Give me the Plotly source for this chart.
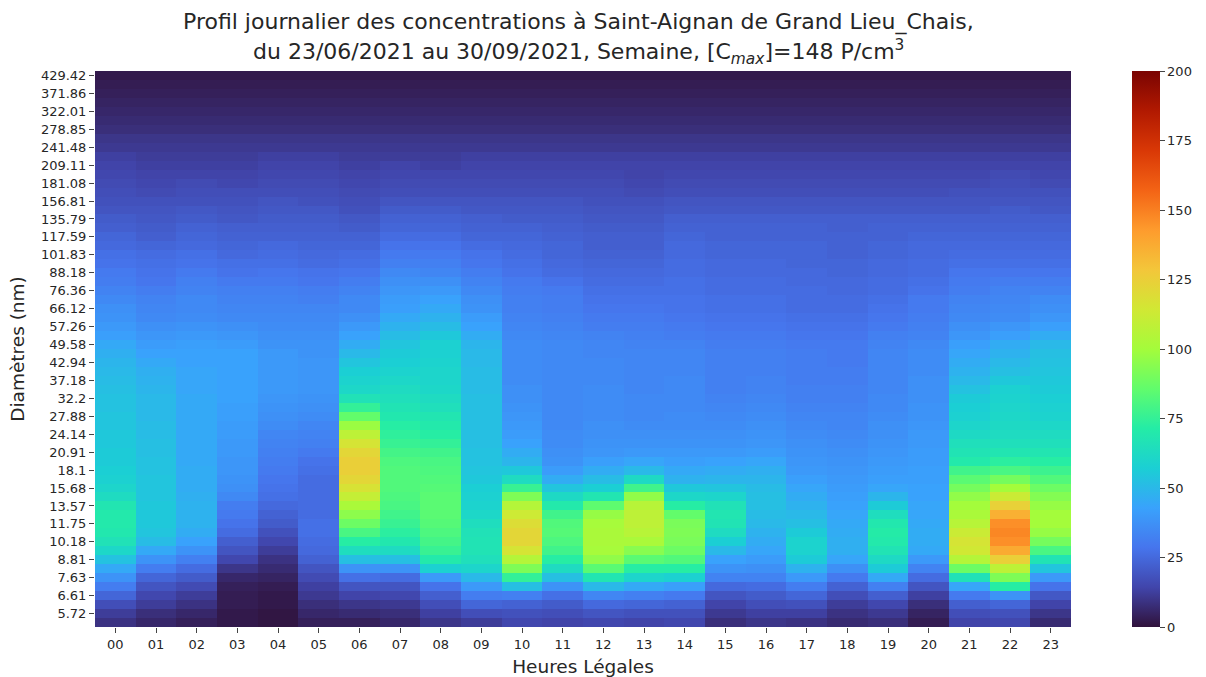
import plotly.graph_objects as go

# Hours of the day (x axis)
hours = ["%02d" % h for h in range(24)]

# Diameter tick labels (nm), every other size channel, smallest first
diam_labels = ["5.72", "6.61", "7.63", "8.81", "10.18", "11.75", "13.57", "15.68",
               "18.1", "20.91", "24.14", "27.88", "32.2", "37.18", "42.94", "49.58",
               "57.26", "66.12", "76.36", "88.18", "101.83", "117.59", "135.79",
               "156.81", "181.08", "209.11", "241.48", "278.85", "322.01", "371.86",
               "429.42"]

# Mean concentration per size channel (P/cm3), 62 channels from the smallest diameter up
conc_00 = [9, 12, 17, 24, 31, 38, 45, 53, 61, 66, 69, 70, 70, 68, 63, 60, 58, 57, 56, 56, 55, 55, 54, 54, 53, 53, 52, 51, 50, 49, 47,
           45, 42, 40, 38, 37, 35, 33, 31, 30, 28, 27, 25, 24, 22, 21, 19, 18, 17, 16, 15, 14, 13, 11, 10, 8, 7, 6, 5, 4, 3, 2]
conc_01 = [6, 8, 12, 15, 19, 24, 31, 38, 45, 51, 54, 55, 55, 55, 54, 54, 54, 53, 53, 52, 52, 51, 51, 50, 50, 50, 49, 48, 47, 45, 43,
           41, 39, 37, 35, 34, 33, 31, 29, 28, 27, 26, 24, 22, 21, 20, 19, 18, 16, 15, 14, 13, 12, 11, 10, 8, 7, 6, 5, 4, 3, 2]
conc_02 = [4, 6, 9, 12, 16, 21, 26, 32, 38, 43, 46, 48, 48, 48, 47, 46, 46, 46, 45, 45, 45, 45, 45, 45, 45, 45, 44, 44, 44, 43, 43,
           42, 40, 38, 36, 35, 35, 33, 32, 30, 28, 27, 25, 24, 23, 21, 20, 18, 17, 16, 14, 13, 12, 11, 10, 8, 7, 6, 5, 4, 3, 2]
conc_03 = [2, 2, 3, 3, 4, 6, 10, 15, 19, 22, 26, 28, 30, 31, 35, 37, 38, 39, 39, 40, 40, 41, 41, 42, 42, 43, 43, 43, 43, 43, 43,
           41, 39, 37, 35, 34, 33, 32, 30, 28, 27, 25, 24, 23, 22, 20, 19, 18, 17, 15, 14, 13, 12, 11, 10, 8, 7, 6, 5, 4, 3, 2]
conc_04 = [1, 1, 2, 2, 3, 5, 7, 9, 12, 15, 18, 21, 23, 25, 27, 28, 29, 30, 31, 32, 33, 34, 36, 37, 38, 39, 40, 40, 40, 40, 40,
           38, 37, 36, 35, 34, 33, 32, 30, 29, 27, 26, 25, 23, 22, 21, 20, 19, 17, 16, 15, 14, 13, 11, 10, 8, 7, 6, 5, 4, 3, 2]
conc_05 = [4, 6, 8, 11, 13, 16, 19, 23, 25, 26, 27, 27, 26, 26, 26, 26, 26, 27, 28, 30, 32, 33, 34, 36, 37, 38, 39, 39, 39, 39, 38,
           38, 37, 36, 35, 34, 32, 31, 29, 28, 26, 25, 24, 23, 22, 21, 20, 18, 17, 16, 15, 14, 13, 11, 10, 8, 7, 6, 5, 4, 3, 2]
conc_06 = [4, 7, 10, 14, 19, 27, 38, 52, 64, 72, 80, 88, 95, 102, 110, 117, 122, 125, 125, 122, 116, 108, 98, 86, 75, 66, 61, 59, 57, 54, 50,
           46, 43, 40, 37, 35, 35, 33, 31, 29, 27, 26, 24, 23, 21, 20, 18, 17, 16, 15, 14, 13, 12, 11, 10, 8, 7, 6, 5, 4, 3, 2]
conc_07 = [6, 8, 11, 15, 19, 26, 38, 52, 63, 69, 73, 76, 78, 80, 81, 82, 82, 82, 81, 79, 76, 74, 72, 69, 67, 65, 63, 61, 59, 57, 56,
           54, 51, 48, 45, 42, 41, 39, 37, 35, 32, 30, 28, 26, 24, 23, 21, 19, 17, 16, 15, 14, 12, 11, 10, 8, 7, 6, 5, 4, 3, 2]
conc_08 = [10, 13, 17, 22, 28, 40, 58, 70, 76, 79, 81, 83, 84, 84, 84, 83, 82, 81, 80, 78, 75, 72, 70, 68, 65, 63, 61, 60, 60, 59, 58,
           58, 55, 51, 48, 45, 43, 40, 37, 34, 32, 30, 28, 26, 24, 23, 21, 19, 17, 16, 15, 13, 12, 11, 10, 8, 7, 6, 5, 4, 3, 2]
conc_09 = [12, 17, 24, 31, 40, 50, 60, 65, 67, 67, 66, 64, 61, 59, 58, 57, 55, 54, 53, 53, 52, 52, 52, 52, 52, 52, 51, 51, 51, 50, 50,
           49, 46, 43, 41, 38, 37, 35, 33, 31, 29, 28, 26, 24, 23, 22, 20, 19, 17, 16, 15, 14, 13, 11, 10, 8, 7, 6, 5, 4, 3, 2]
conc_10 = [15, 18, 23, 32, 52, 75, 92, 105, 116, 122, 122, 119, 113, 105, 92, 76, 63, 55, 49, 46, 43, 41, 40, 39, 38, 37, 37, 36, 36, 36, 36,
           36, 35, 34, 33, 32, 32, 31, 30, 28, 27, 26, 25, 24, 23, 21, 20, 19, 17, 16, 15, 14, 13, 11, 10, 8, 7, 6, 5, 4, 3, 2]
conc_11 = [14, 17, 21, 27, 38, 52, 63, 72, 78, 81, 83, 82, 78, 70, 62, 54, 46, 41, 38, 37, 36, 36, 35, 35, 35, 35, 35, 35, 35, 35, 35,
           35, 34, 33, 32, 31, 31, 30, 28, 26, 25, 24, 24, 23, 22, 21, 20, 19, 17, 16, 15, 14, 13, 11, 10, 8, 7, 6, 5, 4, 3, 2]
conc_12 = [15, 19, 25, 34, 50, 68, 84, 96, 101, 102, 102, 101, 97, 85, 68, 57, 51, 46, 42, 39, 38, 37, 37, 36, 36, 36, 36, 35, 35, 35, 34,
           34, 33, 31, 30, 29, 28, 27, 26, 25, 24, 23, 22, 22, 21, 20, 19, 18, 17, 16, 15, 14, 13, 11, 10, 8, 7, 6, 5, 4, 3, 2]
conc_13 = [14, 18, 24, 32, 45, 60, 72, 84, 94, 102, 106, 108, 108, 106, 96, 78, 62, 50, 44, 40, 38, 37, 36, 35, 35, 35, 34, 34, 34, 34, 34,
           33, 32, 31, 30, 29, 28, 27, 26, 25, 24, 23, 22, 22, 21, 20, 19, 18, 16, 15, 14, 14, 13, 11, 10, 8, 7, 6, 5, 4, 3, 2]
conc_14 = [15, 18, 23, 30, 42, 58, 72, 82, 88, 91, 92, 91, 86, 72, 61, 55, 48, 45, 42, 40, 38, 37, 36, 36, 35, 35, 35, 35, 34, 34, 34,
           33, 31, 30, 29, 28, 28, 27, 27, 26, 26, 25, 25, 24, 23, 22, 20, 19, 17, 16, 15, 14, 13, 11, 10, 8, 7, 6, 5, 4, 3, 2]
conc_15 = [8, 11, 14, 19, 25, 33, 38, 43, 50, 57, 63, 67, 68, 66, 60, 54, 49, 46, 43, 40, 38, 37, 36, 35, 34, 33, 32, 32, 32, 32, 32,
           31, 30, 29, 28, 27, 27, 26, 26, 25, 25, 24, 24, 23, 23, 22, 20, 19, 17, 16, 15, 14, 13, 11, 10, 8, 7, 6, 5, 4, 3, 2]
conc_16 = [10, 13, 17, 21, 26, 33, 37, 41, 44, 46, 48, 50, 51, 52, 52, 51, 49, 47, 44, 41, 39, 38, 37, 36, 35, 34, 33, 33, 32, 32, 32,
           31, 30, 29, 28, 27, 27, 26, 26, 25, 25, 24, 24, 23, 23, 22, 20, 19, 17, 16, 15, 14, 13, 11, 10, 8, 7, 6, 5, 4, 3, 2]
conc_17 = [9, 13, 18, 24, 31, 40, 48, 56, 59, 59, 56, 52, 50, 48, 46, 44, 42, 40, 39, 38, 37, 36, 35, 34, 33, 32, 32, 31, 31, 31, 31,
           30, 29, 28, 27, 26, 26, 26, 25, 25, 24, 24, 24, 23, 23, 22, 20, 19, 17, 16, 15, 14, 13, 11, 10, 8, 7, 6, 5, 4, 3, 2]
conc_18 = [7, 9, 12, 17, 23, 30, 37, 44, 47, 47, 46, 45, 44, 43, 42, 41, 40, 39, 38, 37, 36, 35, 34, 34, 33, 32, 32, 31, 31, 30, 30,
           30, 29, 28, 27, 26, 26, 25, 25, 24, 24, 23, 23, 23, 22, 22, 20, 19, 17, 16, 15, 14, 13, 11, 10, 8, 7, 6, 5, 4, 3, 2]
conc_19 = [8, 11, 15, 22, 32, 45, 56, 62, 67, 70, 71, 69, 64, 56, 49, 44, 42, 41, 40, 39, 38, 37, 37, 36, 35, 35, 34, 34, 34, 34, 34,
           33, 32, 30, 29, 28, 27, 26, 26, 25, 25, 24, 24, 23, 23, 22, 20, 19, 17, 16, 15, 14, 13, 11, 10, 8, 7, 6, 5, 4, 3, 2]
conc_20 = [3, 5, 8, 13, 19, 26, 33, 40, 45, 46, 46, 45, 44, 44, 43, 43, 42, 42, 41, 41, 40, 40, 39, 38, 38, 37, 37, 37, 36, 36, 36,
           35, 33, 32, 31, 30, 30, 28, 27, 26, 26, 25, 25, 24, 23, 22, 20, 19, 17, 16, 15, 14, 13, 11, 10, 8, 7, 6, 5, 4, 3, 2]
conc_21 = [14, 17, 22, 30, 44, 66, 88, 105, 114, 116, 112, 106, 102, 100, 96, 90, 84, 78, 70, 67, 65, 62, 60, 58, 57, 56, 53, 50, 48, 46, 44,
           42, 39, 37, 35, 34, 33, 31, 30, 29, 27, 26, 25, 24, 23, 22, 20, 19, 18, 16, 15, 14, 13, 11, 10, 8, 7, 6, 5, 4, 3, 2]
conc_22 = [15, 18, 24, 38, 72, 92, 108, 125, 138, 146, 148, 146, 136, 124, 112, 100, 90, 80, 73, 68, 65, 63, 62, 61, 60, 59, 58, 55, 52, 50, 48,
           46, 42, 39, 36, 35, 34, 33, 31, 29, 27, 26, 25, 24, 23, 22, 21, 19, 18, 17, 16, 14, 13, 11, 10, 8, 7, 6, 5, 4, 3, 2]
conc_23 = [7, 10, 14, 20, 28, 40, 54, 67, 80, 90, 97, 100, 100, 97, 93, 88, 82, 77, 72, 68, 65, 63, 61, 59, 58, 57, 56, 55, 54, 53, 52,
           50, 46, 42, 39, 37, 36, 33, 31, 29, 27, 26, 25, 24, 23, 22, 20, 19, 18, 16, 15, 14, 13, 11, 10, 8, 7, 6, 5, 4, 3, 2]

by_hour = [conc_00, conc_01, conc_02, conc_03, conc_04, conc_05, conc_06, conc_07,
           conc_08, conc_09, conc_10, conc_11, conc_12, conc_13, conc_14, conc_15,
           conc_16, conc_17, conc_18, conc_19, conc_20, conc_21, conc_22, conc_23]

n_channels = len(conc_00)
channel_idx = list(range(n_channels))
# rows = size channels, columns = hours
z = [[by_hour[h][c] for h in range(len(hours))] for c in channel_idx]

text_color = "#262626"

fig = go.Figure(
    go.Heatmap(
        z=z,
        x=hours,
        y=channel_idx,
        colorscale="Turbo",
        zmin=0,
        zmax=200,
        colorbar=dict(
            x=1.0523, xanchor="left",
            y=0.5, yanchor="middle",
            len=1.0, lenmode="fraction",
            ypad=0,
            thickness=28,
            outlinewidth=0,
            tickvals=[0, 25, 50, 75, 100, 125, 150, 175, 200],
            ticks="outside", ticklen=5, tickcolor="#444",
            tickfont=dict(size=13, color=text_color),
        ),
        hovertemplate="%{x} h<br>canal %{y}<br>%{z} P/cm³<extra></extra>",
    )
)

fig.update_layout(
    width=1206,
    height=677,
    margin=dict(l=95, r=135, t=71, b=50, autoexpand=False),
    paper_bgcolor="white",
    plot_bgcolor="white",
    font=dict(family="DejaVu Sans", color=text_color),
    annotations=[
        dict(
            text="Profil journalier des concentrations à Saint-Aignan de Grand Lieu_Chais,",
            xref="paper", yref="paper", x=0.495, y=1.088,
            xanchor="center", yanchor="middle", showarrow=False,
            font=dict(size=22, color=text_color),
        ),
        dict(
            text="du 23/06/2021 au 30/09/2021, Semaine, [C<sub><i>max</i></sub>]=148 P/cm<sup>3</sup>",
            xref="paper", yref="paper", x=0.495, y=1.034,
            xanchor="center", yanchor="middle", showarrow=False,
            font=dict(size=22, color=text_color),
        ),
    ],
)

fig.update_xaxes(
    type="category",
    ticks="outside", ticklen=5, tickcolor="#444",
    tickfont=dict(size=13),
    showgrid=False, zeroline=False, showline=False,
    title=dict(text="Heures Légales", font=dict(size=18.5), standoff=10),
)

fig.update_yaxes(
    range=[-0.5, n_channels - 0.5],
    tickvals=list(range(1, n_channels, 2)),
    ticktext=diam_labels,
    ticks="outside", ticklen=5, tickcolor="#444",
    tickfont=dict(size=13),
    showgrid=False, zeroline=False, showline=False,
    title=dict(text="Diamètres (nm)", font=dict(size=18.5), standoff=11),
)

fig.write_html("out.html")
